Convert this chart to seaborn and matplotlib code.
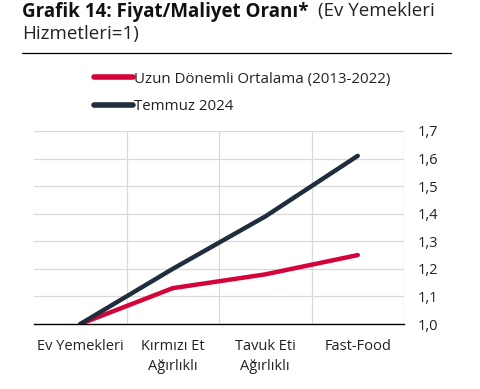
import matplotlib
matplotlib.use("Agg")
import matplotlib.pyplot as plt
import seaborn as sns
import pandas as pd
from matplotlib.ticker import FixedLocator, FuncFormatter
from matplotlib.lines import Line2D

categories = ["Ev Yemekleri", "Kırmızı Et\nAğırlıklı", "Tavuk Eti\nAğırlıklı", "Fast-Food"]
uzun_donem = [1.0, 1.13, 1.18, 1.25]
temmuz_2024 = [1.0, 1.20, 1.39, 1.61]
series_names = ["Uzun Dönemli Ortalama (2013-2022)", "Temmuz 2024"]
colors = ["#D4043A", "#1F2D3D"]
yticks = [1.0, 1.1, 1.2, 1.3, 1.4, 1.5, 1.6, 1.7]

df = pd.DataFrame({
    "kategori": categories * 2,
    "deger": uzun_donem + temmuz_2024,
    "seri": [series_names[0]] * 4 + [series_names[1]] * 4,
})

sns.set_style("white")
plt.rcParams["font.family"] = ["Open Sans", "DejaVu Sans"]

fig = plt.figure(figsize=(4.81, 3.89), dpi=100)
ax = fig.add_axes([34/481, 1-324/389, (404-34)/481, (324-131)/389])

sns.lineplot(data=df, x="kategori", y="deger", hue="seri", palette=colors,
             linewidth=3.2, ax=ax, sort=False, legend=False)
for line in ax.lines:
    line.set_solid_capstyle("round")

ax.set_xlim(-0.5, 3.5)
ax.set_ylim(1.0, 1.7)
ax.yaxis.tick_right()
ax.yaxis.set_major_locator(FixedLocator(yticks))
ax.yaxis.set_major_formatter(FuncFormatter(lambda v, p: f"{v:.1f}".replace(".", ",")))
ax.set_xticks(range(4))
ax.set_xticklabels(categories, fontsize=10.5, color="#222222", linespacing=1.45)
ax.tick_params(axis="y", labelsize=10.5, colors="#222222", length=0, pad=10)
ax.tick_params(axis="x", length=0, pad=11)
ax.xaxis.set_minor_locator(FixedLocator([0.5, 1.5, 2.5, 3.5]))
ax.grid(True, axis="y", which="major", color="#d9d9d9", linewidth=0.9)
ax.grid(True, axis="x", which="minor", color="#d9d9d9", linewidth=0.9)
ax.tick_params(axis="x", which="minor", length=0)
ax.set_xlabel("")
ax.set_ylabel("")
for s in ["left", "top", "right"]:
    ax.spines[s].set_visible(False)
ax.spines["bottom"].set_color("black")
ax.spines["bottom"].set_linewidth(1.0)
ax.set_axisbelow(True)

handles = [Line2D([0], [0], color=c, linewidth=4, solid_capstyle="round") for c in colors]
fig.legend(handles, series_names, loc="upper left", bbox_to_anchor=(86/481, 1-64/389),
           frameon=False, fontsize=10.8, handlelength=2.6, handletextpad=0.1,
           labelspacing=0.85, borderpad=0, labelcolor="#222222")

fig.text(22/481, 1-2/389, "Grafik 14: Fiyat/Maliyet Oranı*", fontsize=13.5, fontweight="bold",
         va="top", ha="left", color="#111111")
fig.text(318/481, 1-2/389, "(Ev Yemekleri", fontsize=13.5, va="top", ha="left", color="#222222")
fig.text(22/481, 1-25/389, "Hizmetleri=1)", fontsize=13.5, va="top", ha="left", color="#222222")
fig.add_artist(Line2D([22/481, 451/481], [1-53/389, 1-53/389], color="black", linewidth=0.9,
                      transform=fig.transFigure))

fig.savefig("out.png", dpi=100)
